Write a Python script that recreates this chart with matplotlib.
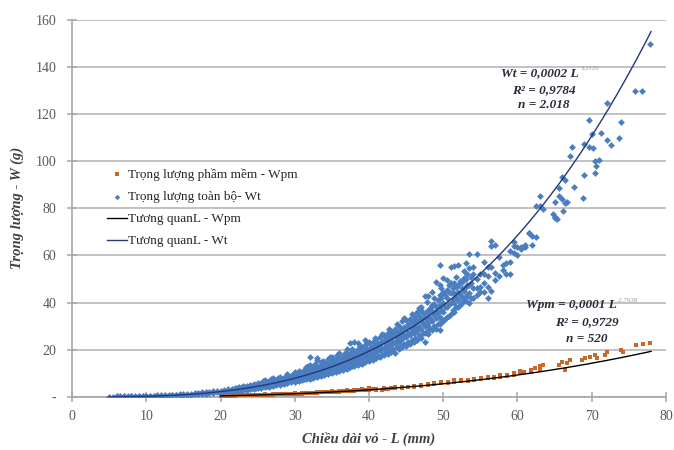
import matplotlib
matplotlib.use("Agg")
import matplotlib.pyplot as plt
import numpy as np

# ---------------- data ----------------
# Total weight Wt, grouped by shell length L (mm): (L, [W values in g])
wt_groups = [
    (5.0, [0.1]), (5.5, [0.1]), (6.0, [0.2, 0.4]), (6.5, [0.1, 0.3]), (7.0, [0.2, 0.4]),
    (7.5, [0.3, 0.1]), (8.0, [0.2, 0.4]), (8.5, [0.3, 0.1]), (9.0, [0.2, 0.4]), (9.5, [0.3, 0.2]),
    (10.0, [0.2, 0.4]), (10.5, [0.3, 0.5]), (11.0, [0.3, 0.5]), (11.5, [0.4, 0.6]), (12.0, [0.4, 0.7]),
    (12.5, [0.5, 0.7]), (13.0, [0.5, 0.8]), (13.5, [0.6, 0.9]), (14.0, [0.6, 1.0]), (14.5, [0.7, 1.1]),
    (15.0, [0.8, 1.1]), (15.5, [0.9, 1.3]), (16.0, [1.0, 1.4]), (16.5, [1.1, 1.5]), (17.0, [1.2, 1.7]),
    (17.5, [1.3, 1.9]), (18.0, [1.4, 2.0]), (18.5, [1.6, 2.2]), (19.0, [1.7, 2.4]), (19.5, [1.9, 2.6]),
    (20.0, [2.0, 2.7, 1.6]), (20.5, [1.9, 2.5, 3.0]), (21.0, [2.1, 2.6, 3.3]), (21.5, [2.2, 2.9, 3.4]),
    (22.0, [2.4, 3.1, 3.8]), (22.5, [2.7, 3.4, 4.2]), (23.0, [2.8, 3.6, 4.5]), (23.5, [3.1, 3.9, 4.6]),
    (24.0, [3.3, 4.1, 5.0]), (24.5, [3.5, 4.3, 5.4]), (25.0, [3.6, 4.6, 5.7]), (25.5, [3.9, 4.9, 6.0]),
    (26.0, [4.1, 5.2, 6.4, 7.2]), (26.5, [4.4, 5.5, 6.6]), (27.0, [4.7, 5.8, 7.0, 8.0]),
    (27.5, [5.0, 6.2, 7.3]), (28.0, [5.2, 6.5, 7.8, 8.6]), (28.5, [5.6, 6.8, 8.0]),
    (29.0, [5.9, 7.2, 8.5, 9.6]), (29.5, [6.2, 7.6, 8.8]), (30.0, [6.5, 7.9, 9.3, 10.5]),
    (30.5, [6.8, 7.9, 9.0, 10.2, 11.0]), (31.0, [7.0, 8.3, 9.5, 10.6]),
    (31.5, [7.4, 8.7, 10.0, 11.2, 12.5]), (32.0, [7.8, 9.1, 10.4, 11.8, 13.6, 17.1]),
    (32.5, [8.2, 9.6, 10.9, 12.3]), (33.0, [8.6, 10.0, 11.4, 12.9, 15.7, 16.4]),
    (33.5, [9.0, 10.4, 12.0, 13.5, 14.8]), (34.0, [9.4, 10.9, 12.5, 14.1]),
    (34.5, [9.8, 11.4, 13.0, 14.7, 16.2]), (35.0, [10.2, 11.9, 13.6, 15.3, 17.0]),
    (35.5, [10.7, 12.4, 14.2, 16.0]), (36.0, [11.1, 12.9, 14.8, 16.6, 18.8]),
    (36.5, [11.6, 13.4, 15.3, 17.3]), (37.0, [12.0, 14.0, 16.0, 18.0, 20.2]),
    (37.5, [12.5, 14.6, 16.6, 18.8, 22.7]), (38.0, [13.0, 15.1, 17.3, 19.6, 23.5]),
    (38.5, [13.6, 15.7, 18.0, 20.4, 23.0]), (39.0, [14.1, 16.4, 18.7, 21.1]),
    (39.5, [14.7, 17.0, 19.4, 21.9, 24.0]), (40.0, [15.2, 17.6, 20.1, 22.7, 23.5]),
    (40.5, [15.8, 18.3, 20.9, 23.5]), (41.0, [16.5, 19.0, 21.7, 24.4]),
    (41.5, [17.0, 19.7, 22.4, 20.6, 25.3]), (42.0, [17.6, 20.4, 23.3, 26.2]),
    (42.5, [18.3, 21.2, 24.1, 27.0]), (43.0, [19.0, 22.0, 25.0, 28.0]),
    (43.5, [18.5, 22.7, 25.9, 29.0]), (44.0, [20.3, 23.5, 27.0, 25.9, 30.0]),
    (44.5, [21.0, 24.4, 27.9, 32.0]), (45.0, [21.8, 25.3, 28.8, 29.1, 32.7]),
    (45.5, [22.6, 26.2, 29.8, 33.0]), (46.0, [23.4, 27.0, 29.8, 31.0, 34.2]),
    (46.5, [24.2, 28.0, 32.0, 35.5, 36.2]), (47.0, [25.0, 29.0, 33.0, 36.9, 38.0, 32.7]),
    (47.5, [23.5, 27.0, 30.0, 34.0, 42.6]), (48.0, [26.5, 30.0, 35.5, 31.3, 42.9]),
    (48.5, [28.4, 32.0, 36.5, 39.0, 44.7]), (49.0, [29.0, 33.5, 38.3, 48.9, 36.2]),
    (49.5, [31.0, 34.0, 39.0, 43.3, 47.5, 56.0, 28.4]), (50.0, [32.0, 36.0, 40.0, 44.7, 50.4]),
    (50.5, [34.0, 38.0, 42.0, 45.4, 49.7]), (51.0, [35.0, 40.0, 44.0, 48.2, 55.3]),
    (51.5, [36.0, 39.7, 44.0, 48.2, 55.6]), (52.0, [38.0, 41.2, 44.7, 47.5, 56.0]),
    (52.5, [40.0, 42.3, 46.0, 48.9]), (53.0, [42.6, 40.5, 46.8, 50.0, 56.9]),
    (53.5, [39.7, 44.0, 47.5, 54.7, 60.6]), (54.0, [41.9, 46.0, 52.0, 55.3]),
    (54.5, [43.3, 46.1, 50.0, 60.6]), (55.0, [44.5, 46.8, 52.0]),
    (55.5, [44.7, 48.2, 52.2, 57.4]), (56.0, [41.9, 46.8, 51.4, 55.3]),
    (56.5, [45.1, 55.3, 64.1, 66.3]), (57.0, [49.7, 52.5, 64.5]), (57.5, [51.1, 59.5]),
    (58.0, [53.7, 56.0]), (58.5, [52.2, 56.7]), (59.0, [52.2, 57.4, 61.7]),
    (59.5, [61.0, 64.1, 65.9]), (60.0, [60.0, 63.5]), (60.5, [63.8, 62.6]), (61.0, [64.5, 63.5]),
    (61.5, [69.7, 69.4]), (62.0, [68.3, 64.5]), (62.5, [68.0, 81.2]), (63.0, [85.3, 80.8]),
    (63.5, [79.7]), (64.8, [77.7]), (65.0, [76.5]), (65.1, [75.8, 82.6]), (65.3, [75.4]),
    (65.6, [88.6, 85.4]), (66.0, [93.5, 84.0]), (66.2, [78.7]), (66.4, [92.1, 82.2]),
    (66.7, [82.6]), (67.1, [102.0]), (67.3, [106.0]), (67.6, [89.0]), (68.8, [84.3]),
    (68.9, [107.3, 94.2]), (69.6, [106.0]), (69.7, [117.6]), (70.0, [111.6]), (70.2, [105.5]),
    (70.5, [100.2, 95.0]), (70.6, [98.0]), (71.0, [100.6]), (71.3, [112.0]),
    (72.0, [124.8, 109.0]), (72.6, [106.7]), (73.7, [109.8]), (74.0, [116.6]),
    (75.9, [129.6]), (76.8, [129.6]), (77.8, [149.7]),
]

# More Wt points read from the dense part of the cloud (between the columns above)
wt_groups_dense = [
    (22.25, [2.6, 3.6]), (22.75, [3.0, 3.9]), (23.25, [3.2, 4.1]), (23.75, [3.5, 4.4]),
    (24.25, [3.8, 4.7]), (24.75, [3.9, 5.0]), (25.25, [4.2, 5.3]), (25.75, [4.5, 5.6, 6.8]),
    (26.25, [4.8, 5.9]), (26.75, [5.1, 6.3, 7.5]), (27.25, [5.3, 6.6]), (27.75, [5.7, 6.9, 8.2]),
    (28.25, [6.0, 7.2]), (28.75, [6.3, 7.5, 9.0]), (29.25, [6.7, 7.9]), (29.75, [7.0, 8.2, 9.9]),
    (30.25, [7.2, 8.5, 9.8]), (30.75, [7.5, 8.8, 10.4]), (31.25, [7.8, 9.1, 11.5]),
    (31.75, [8.1, 9.5, 11.0, 13.0]), (32.25, [8.5, 10.0, 11.3]), (32.75, [8.9, 10.3, 11.9, 13.9]),
    (33.25, [9.3, 10.8, 12.4]), (33.75, [9.7, 11.2, 12.9, 15.4]), (34.25, [10.1, 11.7, 13.4]),
    (34.75, [10.5, 12.2, 14.0, 16.8]), (35.25, [10.9, 12.7, 14.6]), (35.75, [11.3, 13.2, 15.1, 17.6]),
    (36.25, [11.8, 13.7, 15.7]), (36.75, [12.2, 14.2, 16.3, 18.5]), (37.25, [12.7, 14.8, 16.9]),
    (37.75, [13.2, 15.4, 17.6, 20.5]), (38.25, [13.8, 16.0, 18.3]), (38.75, [14.3, 16.6, 19.0, 21.8]),
    (39.25, [14.9, 17.2, 19.7]), (39.75, [15.5, 17.9, 20.5, 23.0]), (40.25, [16.1, 18.6, 21.3]),
    (40.75, [16.8, 19.3, 22.1, 25.0]), (41.25, [17.4, 20.1, 23.0]), (41.75, [18.1, 20.9, 23.9, 26.8]),
    (42.25, [18.8, 21.7, 24.8]), (42.75, [19.5, 22.6, 25.7, 28.6]), (43.25, [20.2, 23.4, 26.6]),
    (43.75, [21.0, 24.3, 27.6, 30.8]), (44.25, [21.8, 25.2, 28.7]), (44.75, [22.6, 26.1, 29.7, 33.4]),
    (45.25, [23.4, 27.1, 30.8]), (45.75, [24.3, 28.1, 31.9, 35.0]), (46.25, [25.2, 29.1, 33.0]),
    (46.75, [26.1, 30.1, 34.2, 37.6]), (47.25, [27.0, 31.2, 35.4]), (47.75, [28.0, 32.3, 36.6, 40.2]),
    (48.25, [29.0, 33.4, 37.8]), (48.75, [30.0, 34.6, 39.6, 42.0]), (49.25, [31.0, 35.8, 41.0]),
    (49.75, [32.5, 37.0, 42.0, 46.0]), (50.25, [33.0, 38.3, 43.1]), (50.75, [34.5, 39.5, 44.5, 47.5]),
    (51.25, [37.0, 41.5, 46.0]), (51.75, [38.0, 42.5, 46.5, 51.0]), (52.25, [39.0, 43.5, 49.0]),
    (52.75, [41.0, 45.0, 50.5, 53.5]), (53.25, [43.0, 47.5, 52.0]), (53.75, [42.0, 48.5, 51.0]),
]

# Soft-tissue weight Wpm, grouped by shell length L (mm)
wpm_groups = [
    (20.0, [0.3, 0.5]), (20.5, [0.4]), (21.0, [0.4, 0.6]), (21.5, [0.5]), (22.0, [0.5, 0.7]),
    (22.5, [0.6]), (23.0, [0.6, 0.8]), (23.5, [0.7]), (24.0, [0.7, 0.9]), (24.5, [0.8]),
    (25.0, [0.8, 1.0]), (25.5, [0.9]), (26.0, [0.9, 1.1]), (26.5, [1.0]), (27.0, [1.0, 1.2]),
    (27.5, [1.1]), (28.0, [1.1, 1.3]), (28.5, [1.2]), (29.0, [1.2, 1.4]), (29.5, [1.3]),
    (30.0, [1.2, 1.5]), (30.5, [1.4]), (31.0, [1.4, 1.6]), (31.5, [1.5]), (32.0, [1.5, 1.8]),
    (32.5, [1.7]), (33.0, [1.7, 2.0]), (33.5, [1.9]), (34.0, [1.9, 2.2]), (34.5, [2.0]),
    (35.0, [2.1, 2.4]), (35.5, [2.2]), (36.0, [2.2, 2.6]), (36.5, [2.4]), (37.0, [2.5, 2.8]),
    (37.5, [2.6]), (38.0, [2.7, 3.1]), (38.5, [2.9]), (39.0, [3.0, 3.3]), (39.5, [3.1]),
    (40.0, [3.2, 2.8, 3.6]), (40.5, [3.2]), (41.0, [3.4, 3.0]), (41.7, [3.0]), (42.0, [3.6, 3.3]),
    (42.6, [3.4]), (43.0, [3.8]), (43.5, [3.7, 4.2]), (44.4, [4.1, 3.7]), (45.2, [4.4, 4.0]),
    (46.1, [4.7, 4.2]), (47.0, [5.1, 4.6]), (47.9, [5.5, 5.0]), (48.8, [5.8, 5.3]),
    (49.7, [5.8, 6.3]), (50.6, [6.5, 5.8]), (51.5, [6.5, 7.0]), (52.4, [7.2, 6.6]),
    (53.3, [7.2, 6.7]), (54.2, [7.2, 7.8]), (55.1, [7.5, 8.2]), (56.0, [7.9, 8.6]),
    (56.9, [8.6, 8.0]), (57.7, [8.6, 9.3]), (58.6, [9.3, 8.8]), (59.5, [10.0, 9.2]),
    (60.4, [10.0, 10.8]), (60.9, [10.7]), (61.8, [11.5, 10.5]), (62.4, [12.2]),
    (63.1, [12.9, 11.5]), (63.5, [13.6]), (65.6, [13.6]), (66.0, [15.0]), (66.4, [11.5]),
    (66.7, [14.3]), (67.1, [15.7]), (68.7, [15.7]), (69.1, [16.4]), (69.8, [17.1]),
    (70.5, [17.8]), (70.7, [16.4]), (71.8, [17.8]), (72.0, [19.2]), (74.0, [20.0]),
    (74.2, [19.2]), (76.0, [22.0]), (76.9, [22.5]), (77.8, [22.8]),
]

# Trend-line equations printed on the chart: W = a * L^b
wt_a, wt_b = 0.0002, 3.1126
wpm_a, wpm_b = 0.0001, 2.7938
wt_range = (5.0, 78.0)
wpm_range = (20.0, 78.0)

legend_labels = ["Trọng lượng phầm mềm - Wpm", "Trọng lượng toàn bộ- Wt",
                 "Tương quanL - Wpm", "Tương quanL - Wt"]
x_ticks = [0, 10, 20, 30, 40, 50, 60, 70, 80]
y_ticks = [0, 20, 40, 60, 80, 100, 120, 140, 160]
y_ticklabels = ["-", "20", "40", "60", "80", "100", "120", "140", "160"]

# ---------------- plotting ----------------
def flatten(groups):
    xs, ys = [], []
    for L, ws in groups:
        for w in ws:
            xs.append(L)
            ys.append(w)
    return np.array(xs), np.array(ys)

wt_L, wt_W = flatten(wt_groups + wt_groups_dense)
wpm_L, wpm_W = flatten(wpm_groups)

SERIF = ["Liberation Serif", "DejaVu Serif"]
plt.rcParams["font.family"] = SERIF

fig = plt.figure(figsize=(6.74, 4.5), dpi=100)
ax = fig.add_axes([0.107, 0.118, 0.881, 0.838])

c_orange = "#C8692A"
c_blue = "#4A7EC0"
c_navy = "#22387A"
grid_c = "#BDBDBD"

ax.scatter(wpm_L, wpm_W, s=11, marker="s", color=c_orange, linewidths=0, zorder=3,
           label=legend_labels[0])
ax.scatter(wt_L, wt_W, s=12, marker="D", color=c_blue, linewidths=0, zorder=3,
           label=legend_labels[1])

Lp = np.linspace(wpm_range[0], wpm_range[1], 200)
ax.plot(Lp, wpm_a * Lp ** wpm_b, color="black", lw=1.0, zorder=4, label=legend_labels[2])
Lt = np.linspace(wt_range[0], wt_range[1], 300)
ax.plot(Lt, wt_a * Lt ** wt_b, color=c_navy, lw=1.0, zorder=4, label=legend_labels[3])

ax.set_xlim(0, 80)
ax.set_ylim(0, 160)
ax.set_xticks(x_ticks)
ax.set_yticks(y_ticks)
ax.set_yticklabels(y_ticklabels)
ax.yaxis.grid(True, color=grid_c, lw=1.3)
ax.set_axisbelow(True)
for s in ["top", "right"]:
    ax.spines[s].set_visible(False)
for s in ["left", "bottom"]:
    ax.spines[s].set_color("#A6A6A6")
    ax.spines[s].set_linewidth(1.2)
ax.tick_params(axis="both", direction="inout", length=7, width=1.1, color="#A6A6A6",
               labelcolor="#595959", labelsize=10)
ax.tick_params(axis="x", pad=6)
ax.tick_params(axis="y", pad=8)

ax.set_xlabel("Chiều dài vỏ - L (mm)", fontsize=10.5, fontweight="bold", fontstyle="italic",
              color="#404040", labelpad=6)
ax.set_ylabel("Trọng lượng - W (g)", fontsize=10.5, fontweight="bold", fontstyle="italic",
              color="#404040", labelpad=8)

leg = ax.legend(loc="upper left", bbox_to_anchor=(0.05, 0.62), frameon=False,
                fontsize=9.5, handlelength=1.5, handletextpad=0.1, labelspacing=0.75,
                markerscale=0.8, borderaxespad=0.0)
for t in leg.get_texts():
    t.set_color("#262626")

# Equation annotations
txt_kw = dict(fontsize=9.5, fontstyle="italic", fontweight="bold", color="#2b2b3b",
              transform=ax.transData)
exp_kw = dict(fontsize=5.0, fontstyle="italic", color="#9a9aa8", transform=ax.transData)
ax.text(68.2, 137.5, "Wt = 0,0002 L", ha="right", va="center", **txt_kw)
ax.text(68.4, 139.8, "3,1126", ha="left", va="center", **exp_kw)
ax.text(63.6, 130.3, "R² = 0,9784", ha="center", va="center", **txt_kw)
ax.text(63.6, 124.0, "n = 2.018", ha="center", va="center", **txt_kw)

ax.text(73.4, 39.0, "Wpm = 0,0001 L", ha="right", va="center", **txt_kw)
ax.text(73.6, 41.3, "2,7938", ha="left", va="center", **exp_kw)
ax.text(69.3, 31.8, "R² = 0,9729", ha="center", va="center", **txt_kw)
ax.text(69.3, 24.5, "n = 520", ha="center", va="center", **txt_kw)

fig.savefig("out.png", dpi=100)
